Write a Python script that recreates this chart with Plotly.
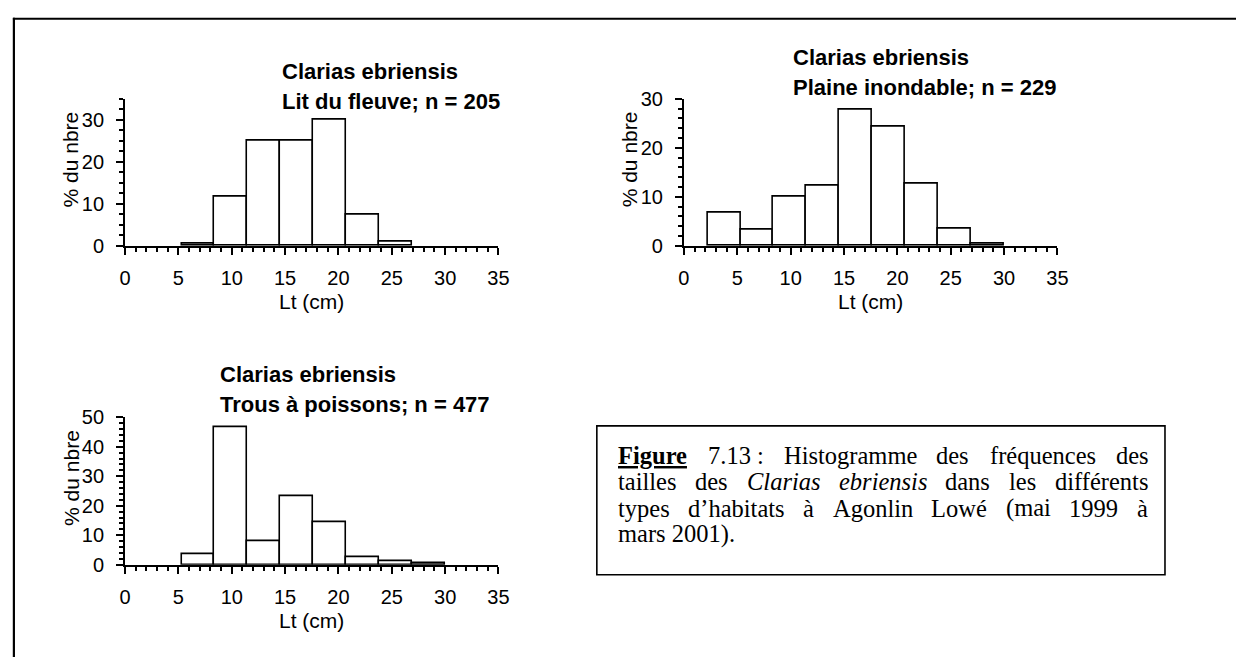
import plotly.graph_objects as go

W, H = 1247, 668

# Size classes (Lt, cm): centres of the bins and their common width
bin_centres = [3.75, 6.84, 9.93, 13.02, 16.11, 19.20, 22.29, 25.38, 28.47]
bin_width = 3.09

# Percentage of individuals in each size class, per habitat (None = empty class)
lit_du_fleuve = [None, 0.5, 11.7, 25.0, 25.0, 30.0, 7.4, 1.0, None]
plaine_inondable = [6.7, 3.2, 9.9, 12.2, 27.8, 24.2, 12.6, 3.5, 0.4]
trous_a_poissons = [None, 3.5, 46.5, 8.0, 23.3, 14.5, 2.7, 1.3, 0.7]

species = "Clarias ebriensis"
habitat_labels = ["Lit du fleuve; n = 205",
                  "Plaine inondable; n = 229",
                  "Trous à poissons; n = 477"]

x_ticks = [0, 5, 10, 15, 20, 25, 30, 35]
y_tops = [35, 30, 50]
y_minor = [2.5, 2, 2]
x_title = "Lt (cm)"
y_title = "% du nbre"

# caption, word by word: (text, style) ; r = roman, b = bold+underline, i = italic
caption_lines = [
    [("Figure", "b"), ("7.13 :", "r"), ("Histogramme", "r"), ("des", "r"),
     ("fréquences", "r"), ("des", "r")],
    [("tailles", "r"), ("des", "r"), ("Clarias", "i"), ("ebriensis", "i"),
     ("dans", "r"), ("les", "r"), ("différents", "r")],
    [("types", "r"), ("d’habitats", "r"), ("à", "r"), ("Agonlin", "r"),
     ("Lowé", "r"), ("(mai", "r"), ("1999", "r"), ("à", "r")],
    [("mars 2001).", "r")],
]

SANS = "Liberation Sans, Arial, sans-serif"
SERIF = "Liberation Serif, Times New Roman, serif"

# Times metrics (1/1000 em) used to justify the caption lines
TIMES_R = {" ": 250, "’": 333, "(": 333, ")": 333, ".": 250, ":": 278,
           "A": 722, "F": 556, "H": 722, "L": 611, "C": 667,
           "a": 444, "b": 500, "c": 444, "d": 500, "e": 444, "f": 333,
           "g": 500, "h": 500, "i": 278, "l": 278, "m": 778, "n": 500,
           "o": 500, "p": 500, "q": 500, "r": 333, "s": 389, "t": 278,
           "u": 500, "v": 500, "w": 722, "y": 500, "é": 444, "à": 444}
TIMES_B = {"F": 611, "i": 278, "g": 500, "u": 556, "r": 444, "e": 444}
TIMES_I = {"C": 667, "l": 278, "a": 500, "r": 389, "i": 278, "s": 389,
           "e": 444, "b": 500, "n": 500}


def word_width(word, style, size):
    table = {"r": TIMES_R, "b": TIMES_B, "i": TIMES_I}[style]
    total = 0
    for ch in word:
        if ch.isdigit():
            total += 500
        else:
            total += table.get(ch, TIMES_R.get(ch, 500))
    return total * size / 1000.0


def px_x(p):
    return p / W


def px_y(p):
    return 1 - p / H


# panel boxes in pixels: (left, right, top, bottom)
panels = [
    (120.7, 499.3, 90.7, 242.7),
    (687.3, 1066.0, 90.7, 242.7),
    (120.7, 499.3, 420.0, 572.7),
]
title_pos = [(277.7, 70.7, 101.0), (796.0, 56.0, 86.7), (215.0, 384.0, 415.0)]
series = [lit_du_fleuve, plaine_inondable, trous_a_poissons]

fig = go.Figure()
layout = dict(
    width=W, height=H,
    margin=dict(l=0, r=0, t=0, b=0),
    paper_bgcolor="white", plot_bgcolor="white",
    showlegend=False,
    bargap=0,
)
annotations = []
shapes = []

TICK_SIZE = 20
AXIS_TITLE_SIZE = 21
PANEL_TITLE_SIZE = 22

for i, (vals, (l, r, t, b)) in enumerate(zip(series, panels)):
    sfx = "" if i == 0 else str(i + 1)
    fig.add_trace(go.Bar(
        x=bin_centres, y=vals, width=bin_width,
        marker=dict(color="white", line=dict(color="black", width=1.6)),
        xaxis="x" + sfx, yaxis="y" + sfx, hoverinfo="skip",
    ))
    layout["xaxis" + sfx] = dict(
        domain=[px_x(l), px_x(r)], anchor="y" + sfx,
        range=[0, 35], tickmode="array", tickvals=x_ticks,
        showline=True, linecolor="black", linewidth=2,
        ticks="outside", ticklen=7, tickwidth=2, tickcolor="black",
        minor=dict(ticks="outside", ticklen=4, tickwidth=1.5,
                   tickcolor="black", dtick=1, tick0=0),
        showgrid=False, zeroline=False,
        tickfont=dict(family=SANS, size=TICK_SIZE, color="black"),
        ticklabelstandoff=6,
    )
    layout["yaxis" + sfx] = dict(
        domain=[px_y(b), px_y(t)], anchor="x" + sfx,
        range=[0, y_tops[i]], dtick=10, tick0=0,
        showline=True, linecolor="black", linewidth=2,
        ticks="outside", ticklen=7, tickwidth=2, tickcolor="black",
        minor=dict(ticks="outside", ticklen=4, tickwidth=1.5,
                   tickcolor="black", dtick=y_minor[i], tick0=0),
        showgrid=False, zeroline=False,
        tickfont=dict(family=SANS, size=TICK_SIZE, color="black"),
        ticklabelstandoff=8,
    )
    # axis titles
    annotations.append(dict(
        text=x_title, xref="paper", yref="paper",
        x=px_x((l + r) / 2), y=px_y(b + 65 - 0.35 * AXIS_TITLE_SIZE),
        xanchor="center", yanchor="middle", showarrow=False,
        font=dict(family=SANS, size=AXIS_TITLE_SIZE, color="black"),
    ))
    annotations.append(dict(
        text=y_title, xref="paper", yref="paper",
        x=px_x(l - 55), y=px_y(t + 63),
        xanchor="center", yanchor="middle", showarrow=False,
        textangle=-90,
        font=dict(family=SANS, size=AXIS_TITLE_SIZE, color="black"),
    ))
    # panel titles
    tx, b1, b2 = title_pos[i]
    for txt, base in ((species, b1), (habitat_labels[i], b2)):
        annotations.append(dict(
            text="<b>" + txt + "</b>", xref="paper", yref="paper",
            x=px_x(tx), y=px_y(base - 0.35 * PANEL_TITLE_SIZE),
            xanchor="left", yanchor="middle", showarrow=False,
            font=dict(family=SANS, size=PANEL_TITLE_SIZE, color="black"),
        ))

# caption: lines 1-3 justified between cap_left and cap_right, last line flush left
CAP_SIZE = 24.5
cap_left, cap_right = 618.5, 1155.5
for k, words in enumerate(caption_lines):
    base = 467 + 27.2 * k
    widths = [word_width(w, s, CAP_SIZE) for w, s in words]
    last = k == len(caption_lines) - 1
    if len(words) > 1 and not last:
        gap = (cap_right - cap_left - sum(widths)) / (len(words) - 1)
    else:
        gap = CAP_SIZE * 0.25
    xpos = cap_left
    for (w, s), wd in zip(words, widths):
        txt = {"r": w, "b": "<b><u>" + w + "</u></b>", "i": "<i>" + w + "</i>"}[s]
        annotations.append(dict(
            text=txt, xref="paper", yref="paper",
            x=px_x(xpos), y=px_y(base - 0.3 * CAP_SIZE),
            xanchor="left", yanchor="middle", showarrow=False,
            font=dict(family=SERIF, size=CAP_SIZE, color="black"),
        ))
        xpos += wd + gap

# caption box
shapes.append(dict(type="rect", xref="paper", yref="paper",
                   x0=px_x(599), x1=px_x(1175), y0=px_y(429), y1=px_y(583),
                   line=dict(color="black", width=1.6)))
# page frame: only its top and left sides fall inside the page
shapes.append(dict(type="line", xref="paper", yref="paper",
                   x0=px_x(7), x1=1.0, y0=px_y(8), y1=px_y(8),
                   line=dict(color="black", width=2.2)))
shapes.append(dict(type="line", xref="paper", yref="paper",
                   x0=px_x(8), x1=px_x(8), y0=px_y(7), y1=0.0,
                   line=dict(color="black", width=2.2)))

layout["annotations"] = annotations
layout["shapes"] = shapes
fig.update_layout(**layout)

fig.write_html("out.html")
